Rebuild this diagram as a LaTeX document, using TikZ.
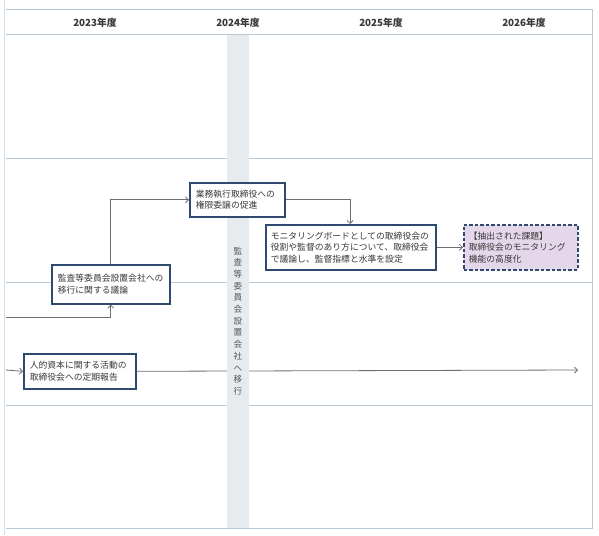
\documentclass[tikz,border=0pt]{standalone}
\usepackage{fontspec}
\newfontfamily\jp{Noto Sans CJK JP}
\usetikzlibrary{arrows.meta}
\definecolor{gridc}{HTML}{B9CAD6}
\definecolor{bandc}{HTML}{E6EBF0}
\definecolor{boxc}{HTML}{2E4A6E}
\definecolor{linec}{HTML}{6E6E6E}
\definecolor{txtc}{HTML}{383838}
\definecolor{purp}{HTML}{E4D7EA}
\tikzset{
  grid/.style={draw=gridc, line width=1pt},
  conn/.style={draw=linec, line width=0.8pt, -{Straight Barb[length=3pt,width=6pt]}},
  box/.style={draw=boxc, line width=1.6pt, fill=white, anchor=north west, inner xsep=6pt, inner ysep=0pt,
    align=left, text=txtc, font=\jp\fontsize{8.8}{11.5}\selectfont},
  issue/.style={box, fill=purp, dash pattern=on 3.5pt off 2pt},
  year/.style={font=\jp\bfseries\fontsize{9.8}{12}\selectfont, text=txtc},
}
\begin{document}
\begin{tikzpicture}[x=1pt,y=-1pt]
\useasboundingbox (0,0) rectangle (599,535);
\fill[white] (0,0) rectangle (599,535);
% frame and grid
\draw[gridc!60, line width=0.6pt] (4,0) -- (4,535);
\draw[grid] (6,10) -- (592,10) -- (592,528) -- (6,528);
\draw[grid] (6,35) -- (592,35);
\draw[grid] (6,158) -- (592,158);
\draw[grid] (6,282) -- (592,282);
\draw[grid] (6,405) -- (592,405);
% year labels
\node[year] (y1) at (95,23) {2023年度};
\node[year] (y2) at (238,23) {2024年度};
\node[year] (y3) at (381,23) {2025年度};
\node[year] (y4) at (524,23) {2026年度};
% free ends
\coordinate (s1) at (6,317);
\coordinate (s2) at (6,370);
\coordinate (e2) at (578,370);
% row with a line hidden by the band
\node[box, minimum width=112pt, minimum height=35pt, text width=100pt] (b5) at (23,353)
  {人的資本に関する活動の\\取締役会への定期報告};
\draw[conn] (s2) -- (b5.west);
\draw[conn] (b5.east) -- (e2);
% band
\fill[bandc] (227,35.5) rectangle (249,527.5);
\node[text=txtc!85, font=\jp\fontsize{8.6}{11.7}\selectfont, align=center, inner sep=0pt] (band) at (238,321)
  {監\\査\\等\\委\\員\\会\\設\\置\\会\\社\\へ\\移\\行};
% other boxes
\node[box, minimum width=118pt, minimum height=39pt, text width=106pt] (b2) at (51,264)
  {監査等委員会設置会社への\\移行に関する議論};
\node[box, minimum width=95pt, minimum height=34pt, text width=83pt] (b1) at (189,182)
  {業務執行取締役への\\権限委譲の促進};
\node[box, minimum width=170pt, minimum height=45pt, text width=160pt, inner xsep=5pt] (b3) at (265,224)
  {モニタリングボードとしての取締役会の\\役割や監督のあり方について、取締役会\\で議論し、監督指標と水準を設定};
\node[issue, minimum width=114pt, minimum height=45pt, text width=104pt, inner xsep=5pt] (b4) at (463,224)
  {【抽出された課題】\\取締役会のモニタリング\\機能の高度化};
% connectors
\draw[conn] (s1) -| (b2.south);
\draw[conn] (b2.north) |- (b1.west);
\draw[conn] (b1.east) -| (b3.north -| 350,0);
\draw[conn] (b3.east) -- (b4.west);
\end{tikzpicture}
\end{document}
